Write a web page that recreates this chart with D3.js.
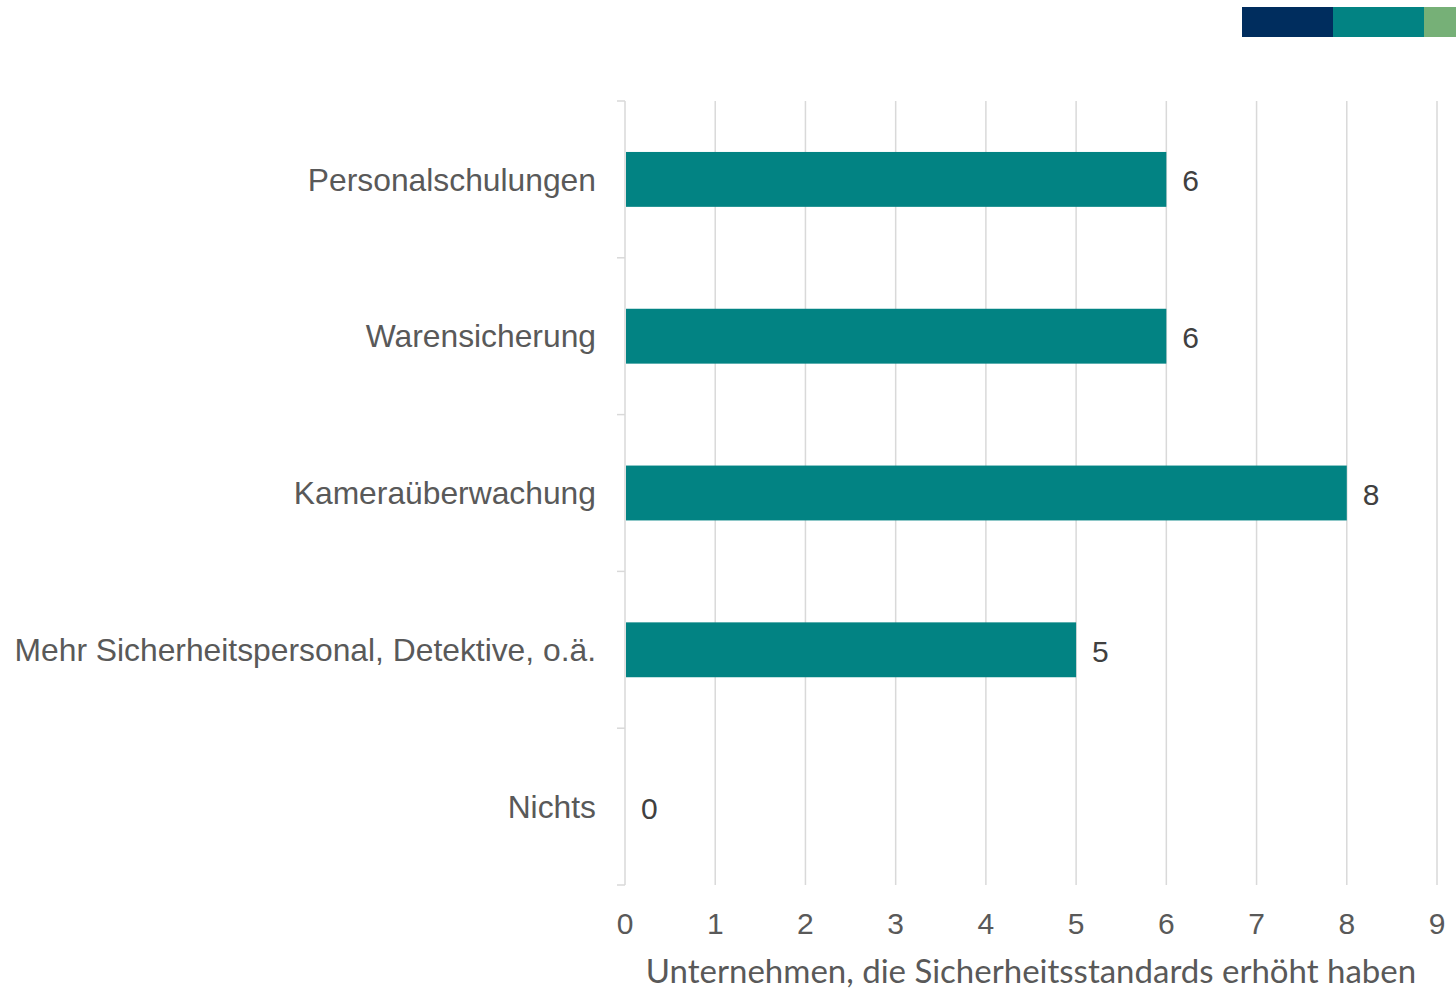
<!DOCTYPE html>
<html>
<head>
<meta charset="utf-8">
<script src="https://cdn.jsdelivr.net/npm/d3@7"></script>
<style>
  body { margin: 0; background: #fff; }
</style>
</head>
<body>
<div id="chart"></div>
<script>
// data
const categories = ["Personalschulungen", "Warensicherung", "Kameraüberwachung", "Mehr Sicherheitspersonal, Detektive, o.ä.", "Nichts"];
const values = [6, 6, 8, 5, 0];
const xTicks = [0, 1, 2, 3, 4, 5, 6, 7, 8, 9];
const axisTitle = "Unternehmen, die Sicherheitsstandards erhöht haben";
const stripColors = ["#002d5e", "#028383", "#76b077"];
const stripWidths = [91, 91, 32];

const W = 1456, H = 989;
const margin = { top: 101, right: 19, bottom: 104, left: 625 };
const width = W - margin.left - margin.right,
  height = H - margin.top - margin.bottom;

const svg = d3.select("#chart").append("svg").attr("width", W).attr("height", H);

// decorative strip top right
let sx = 1242;
stripColors.forEach((c, i) => {
  svg.append("rect").attr("x", sx).attr("y", 7).attr("width", stripWidths[i]).attr("height", 30).attr("fill", c);
  sx += stripWidths[i];
});

const g = svg.append("g").attr("transform", `translate(${margin.left},${margin.top})`);

const x = d3.scaleLinear().domain([0, 9]).range([0, width]);
const y = d3.scaleBand().domain(categories).range([0, height]).paddingInner(0.65).paddingOuter(0.325);

// gridlines
g.selectAll(".grid")
  .data(xTicks.slice(1))
  .join("line")
  .attr("x1", (d) => x(d)).attr("x2", (d) => x(d))
  .attr("y1", 0).attr("y2", height)
  .attr("stroke", "#d9d9d9").attr("stroke-width", 1.5);

// category axis with band separators
const bandEdges = d3.range(categories.length + 1).map((i) => (height / categories.length) * i);
g.append("line").attr("x1", 0).attr("x2", 0).attr("y1", 0).attr("y2", height)
  .attr("stroke", "#d9d9d9").attr("stroke-width", 1.5);
g.selectAll(".sep")
  .data(bandEdges)
  .join("line")
  .attr("x1", -8).attr("x2", 0)
  .attr("y1", (d) => d).attr("y2", (d) => d)
  .attr("stroke", "#d9d9d9").attr("stroke-width", 1.5);

g.selectAll(".cat")
  .data(categories)
  .join("text")
  .attr("x", -29)
  .attr("y", (d) => y(d) + y.bandwidth() / 2)
  .attr("dy", "0.35em")
  .attr("text-anchor", "end")
  .attr("font-family", "Liberation Sans, Arial, sans-serif")
  .attr("font-size", 31.8)
  .attr("fill", "#595959")
  .text((d) => d);

// bars
g.selectAll(".bar")
  .data(values)
  .join("rect")
  .attr("x", x(0) + 1)
  .attr("y", (d, i) => y(categories[i]))
  .attr("width", (d) => Math.max(0, x(d) - x(0) - 1))
  .attr("height", y.bandwidth())
  .attr("fill", "#028383");

// value labels
g.selectAll(".val")
  .data(values)
  .join("text")
  .attr("x", (d) => x(d) + 16)
  .attr("y", (d, i) => y(categories[i]) + y.bandwidth() / 2)
  .attr("dy", "0.4em")
  .attr("font-family", "Liberation Sans, Arial, sans-serif")
  .attr("font-size", 30)
  .attr("fill", "#404040")
  .text((d) => d);

// x tick labels
g.selectAll(".xt")
  .data(xTicks)
  .join("text")
  .attr("x", (d) => x(d))
  .attr("y", height + 38)
  .attr("dy", "0.35em")
  .attr("text-anchor", "middle")
  .attr("font-family", "Liberation Sans, Arial, sans-serif")
  .attr("font-size", 30)
  .attr("fill", "#595959")
  .text((d) => d);

// axis title
g.append("text")
  .attr("x", width / 2)
  .attr("y", height + 86)
  .attr("dy", "0.35em")
  .attr("text-anchor", "middle")
  .attr("font-family", "Lato, sans-serif")
  .attr("font-size", 33)
  .attr("fill", "#595959")
  .text(axisTitle);
</script>
</body>
</html>
